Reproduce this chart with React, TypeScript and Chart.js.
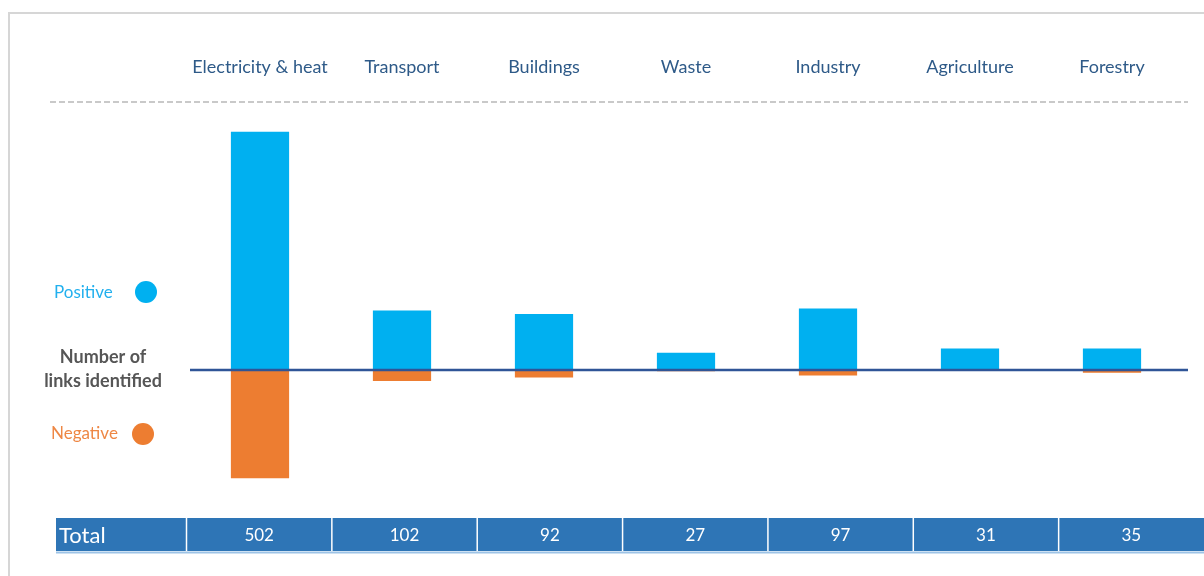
import { useEffect, useRef } from "react";
import { Chart, registerables } from "chart.js";

Chart.register(...registerables);

const categories = ["Electricity & heat", "Transport", "Buildings", "Waste", "Industry", "Agriculture", "Forestry"];
const positiveLinks = [345, 86, 81, 25, 89, 31, 31];
const negativeLinks = [157, 16, 11, 2, 8, 0, 4];
const totals = [502, 102, 92, 27, 97, 31, 35];
const totalLabel = "Total";
const seriesNames = ["Positive", "Negative"];
const axisTitleLines = ["Number of", "links identified"];

const W = 1204;
const H = 576;
const FONT = "Lato, 'Open Sans', sans-serif";
const BLUE = "#00B0F0";
const ORANGE = "#ED7D31";

const decor = {
  id: "decor",
  beforeDraw(chart: any) {
    const ctx = chart.ctx as CanvasRenderingContext2D;
    ctx.save();
    ctx.fillStyle = "#ffffff";
    ctx.fillRect(0, 0, W, H);
    // frame
    ctx.strokeStyle = "#D6D6D6";
    ctx.lineWidth = 2;
    ctx.beginPath();
    ctx.moveTo(9, H);
    ctx.lineTo(9, 13);
    ctx.lineTo(W, 13);
    ctx.stroke();
    // dashed separator under category labels
    ctx.strokeStyle = "#C9C9C9";
    ctx.setLineDash([6, 3]);
    ctx.beginPath();
    ctx.moveTo(50, 102);
    ctx.lineTo(1188, 102);
    ctx.stroke();
    ctx.setLineDash([]);
    // left legend / title
    ctx.textBaseline = "middle";
    ctx.textAlign = "left";
    ctx.font = `17px ${FONT}`;
    ctx.fillStyle = "#22B0EE";
    ctx.fillText(seriesNames[0], 54, 293);
    ctx.fillStyle = BLUE;
    ctx.beginPath();
    ctx.arc(146, 292, 11, 0, Math.PI * 2);
    ctx.fill();
    ctx.fillStyle = "#EE8744";
    ctx.fillText(seriesNames[1], 51, 434);
    ctx.fillStyle = ORANGE;
    ctx.beginPath();
    ctx.arc(143, 434, 11, 0, Math.PI * 2);
    ctx.fill();
    ctx.textAlign = "center";
    ctx.font = `bold 18px ${FONT}`;
    ctx.fillStyle = "#565656";
    ctx.fillText(axisTitleLines[0], 103, 357);
    ctx.fillText(axisTitleLines[1], 103, 381);
    ctx.restore();
  },
  afterDatasetsDraw(chart: any) {
    const ctx = chart.ctx as CanvasRenderingContext2D;
    const y0 = chart.scales.y.getPixelForValue(0);
    ctx.save();
    ctx.strokeStyle = "#2F5597";
    ctx.lineWidth = 2.5;
    ctx.beginPath();
    ctx.moveTo(190, y0);
    ctx.lineTo(1188, y0);
    ctx.stroke();
    ctx.restore();
  },
  afterDraw(chart: any) {
    const ctx = chart.ctx as CanvasRenderingContext2D;
    ctx.save();
    const top = 518;
    const bottom = 551;
    const tableLeft = 56;
    const firstCol = 186.5;
    const colW = (W - firstCol) / totals.length;
    ctx.fillStyle = "#2E75B6";
    ctx.fillRect(tableLeft, top, W - tableLeft, bottom - top);
    ctx.strokeStyle = "#9DC3E6";
    ctx.lineWidth = 2;
    ctx.beginPath();
    ctx.moveTo(tableLeft, bottom + 1.5);
    ctx.lineTo(W, bottom + 1.5);
    ctx.stroke();
    ctx.strokeStyle = "#ffffff";
    ctx.lineWidth = 1.5;
    for (let i = 0; i < totals.length; i++) {
      const x = firstCol + i * colW;
      ctx.beginPath();
      ctx.moveTo(x, top);
      ctx.lineTo(x, bottom);
      ctx.stroke();
    }
    ctx.fillStyle = "#ffffff";
    ctx.textBaseline = "middle";
    ctx.textAlign = "left";
    ctx.font = `22px ${FONT}`;
    ctx.fillText(totalLabel, 59, 536);
    ctx.textAlign = "center";
    ctx.font = `17px ${FONT}`;
    totals.forEach((t, i) => {
      ctx.fillText(String(t), firstCol + (i + 0.5) * colW, 536);
    });
    ctx.restore();
  },
};

export default function App() {
  const ref = useRef<HTMLCanvasElement | null>(null);
  useEffect(() => {
    if (!ref.current) return;
    const chart = new Chart(ref.current, {
      type: "bar",
      data: {
        labels: categories,
        datasets: [
          {
            label: seriesNames[0],
            data: positiveLinks,
            backgroundColor: BLUE,
            barPercentage: 0.41,
            categoryPercentage: 1,
          },
          {
            label: seriesNames[1],
            data: negativeLinks.map((v) => -v),
            backgroundColor: ORANGE,
            barPercentage: 0.41,
            categoryPercentage: 1,
          },
        ],
      },
      options: {
        animation: false,
        responsive: false,
        devicePixelRatio: 1,
        layout: { padding: { left: 189, right: 21, top: 27, bottom: 68 } },
        plugins: { legend: { display: false }, tooltip: { enabled: false } },
        scales: {
          x: {
            position: "top",
            stacked: true,
            grid: { display: false, drawTicks: false },
            border: { display: false },
            ticks: { color: "#2E5A88", font: { family: FONT, size: 18 }, padding: 29.5, maxRotation: 0 },
          },
          y: {
            stacked: true,
            display: false,
            min: -200,
            max: 380,
          },
        },
      },
      plugins: [decor],
    });
    return () => chart.destroy();
  }, []);
  return (
    <div style={{ position: "fixed", left: 0, top: 0, width: W, height: H, background: "#fff" }}>
      <canvas ref={ref} width={W} height={H} style={{ width: W, height: H, display: "block" }} />
    </div>
  );
}
